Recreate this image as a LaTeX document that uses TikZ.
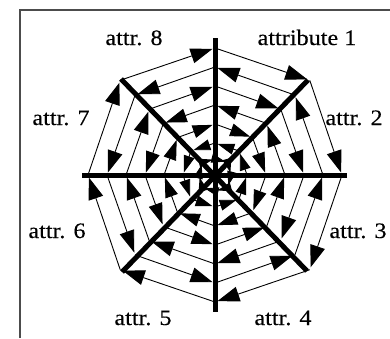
\documentclass[tikz,border=0pt]{standalone}
\usepackage{fontspec}
\newfontfamily\labelfont[FakeStretch=1.1,FakeBold=0.3]{Liberation Serif}
\usetikzlibrary{arrows.meta}
\begin{document}
\begin{tikzpicture}[x=1pt,y=1pt,
  axisline/.style={line width=5pt},
  chord/.style={line width=0.9pt, shorten >=2.5pt},
  lbl/.style={font=\labelfont\fontsize{22}{24}\selectfont, anchor=base, inner sep=0pt},
  frameline/.style={line width=1.5pt, black!70}]
\useasboundingbox (-215,-163) rectangle (175,175);
% frame
\coordinate (fTL) at (-195,165);
\coordinate (fBL) at (-195,-163);
\coordinate (fTR) at (175,165);
\draw[frameline] (fBL) -- (fTL) -- (fTR);
% ring vertices
\foreach \j in {0,...,7}{
  \ifodd\j
    \foreach \r [count=\i] in {134,113,93,73,53,34,18}{\coordinate (p-\i-\j) at ({90-45*\j}:\r);}
  \else
    \foreach \r [count=\i] in {127,108,89,70,51,32,16}{\coordinate (p-\i-\j) at ({90-45*\j}:\r);}
  \fi
}
% chords with arrows
\foreach \i/\len/\wid in {1/22/15,2/22/15,3/22/15,4/21/14,5/20/13,6/17/11,7/14/9}{
  \foreach \j in {0,...,7}{
    \pgfmathtruncatemacro\k{mod(\j+1,8)}
    \ifodd\i
      \draw[chord,-{Triangle[length=\len pt,width=\wid pt]}] (p-\i-\j) -- (p-\i-\k);
    \else
      \draw[chord,-{Triangle[length=\len pt,width=\wid pt]}] (p-\i-\k) -- (p-\i-\j);
    \fi
  }
}
% axes
\coordinate (aN) at (0,137);
\coordinate (aS) at (0,-137);
\coordinate (aE) at (132,0);
\coordinate (aW) at (-133,0);
\coordinate (aNE) at (93,95);
\coordinate (aSW) at (-93,-97);
\coordinate (aNW) at (-94,96);
\coordinate (aSE) at (92,-96);
\draw[axisline] (aN) -- (aS);
\draw[axisline] (aE) -- (aW);
\draw[axisline] (aNE) -- (aSW);
\draw[axisline] (aNW) -- (aSE);
% labels
\node[lbl] (l1) at (92,130) {attribute 1};
\node[lbl] (l8) at (-81,130) {attr. 8};
\node[lbl] (l2) at (139,50) {attr. 2};
\node[lbl] (l7) at (-154,50) {attr. 7};
\node[lbl] (l3) at (143,-63) {attr. 3};
\node[lbl] (l6) at (-158,-63) {attr. 6};
\node[lbl] (l5) at (-72,-150) {attr. 5};
\node[lbl] (l4) at (68,-150) {attr. 4};
\end{tikzpicture}
\end{document}
